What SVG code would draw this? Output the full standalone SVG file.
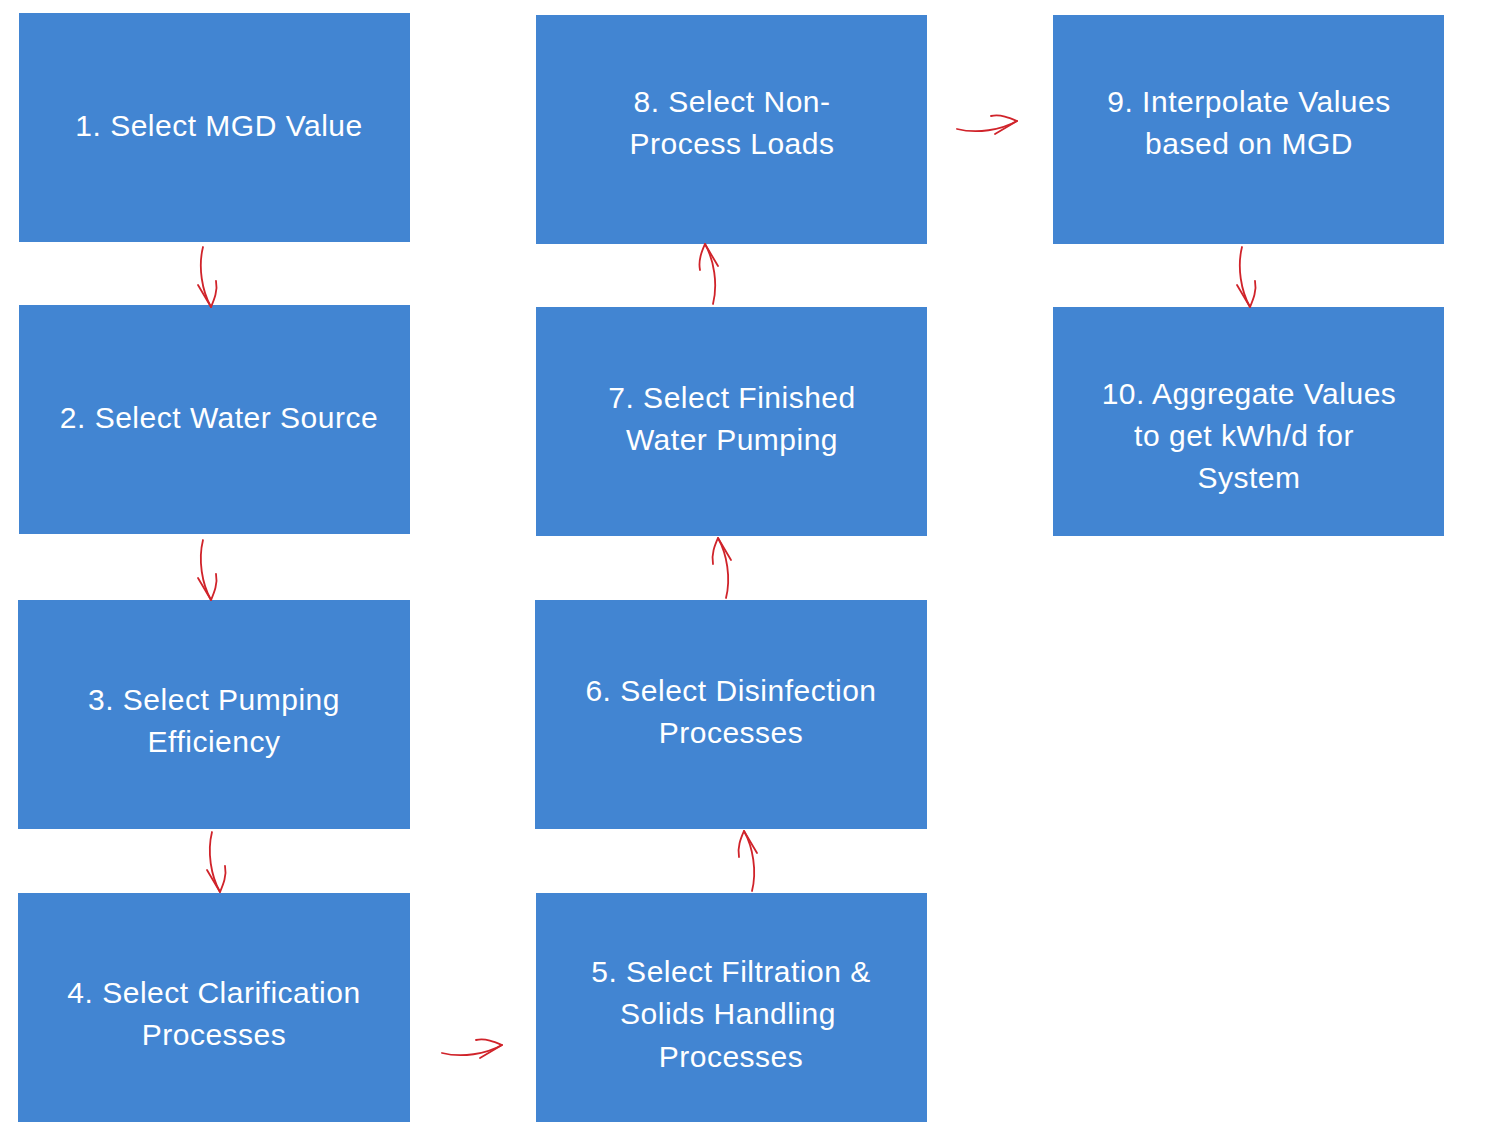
<svg xmlns="http://www.w3.org/2000/svg" xmlns:xlink="http://www.w3.org/1999/xlink" width="1500" height="1139" viewBox="0 0 1500 1139">
<style>
.box{fill:#4285d2}
.t{font-family:"Liberation Sans",Arial,sans-serif;font-size:30px;fill:#fff;text-anchor:middle;letter-spacing:0.5px}
.a{fill:none;stroke:#d0232a;stroke-width:1.8;stroke-linecap:round}
</style>
<defs>
<g id="arr"><path class="a" d="M-4,0 C-9,20 -5,44 4,60"/><path class="a" d="M-9,38 L4,60 M9,34 C11,44 7,53 4,60"/></g>
</defs>
<rect width="1500" height="1139" fill="#fff"/>
<g id="n1"><rect class="box" x="19" y="13" width="391" height="229"/><text class="t" x="219" y="136">1. Select MGD Value</text></g>
<g id="n2"><rect class="box" x="19" y="305" width="391" height="229"/><text class="t" x="219" y="428">2. Select Water Source</text></g>
<g id="n3"><rect class="box" x="18" y="600" width="392" height="229"/><text class="t" x="214" y="710">3. Select Pumping</text><text class="t" x="214" y="752">Efficiency</text></g>
<g id="n4"><rect class="box" x="18" y="893" width="392" height="229"/><text class="t" x="214" y="1003">4. Select Clarification</text><text class="t" x="214" y="1045">Processes</text></g>
<g id="n5"><rect class="box" x="536" y="893" width="391" height="229"/><text class="t" x="731" y="982">5. Select Filtration &amp;</text><text class="t" x="728" y="1024">Solids Handling</text><text class="t" x="731" y="1067">Processes</text></g>
<g id="n6"><rect class="box" x="535" y="600" width="392" height="229"/><text class="t" x="731" y="701">6. Select Disinfection</text><text class="t" x="731" y="743">Processes</text></g>
<g id="n7"><rect class="box" x="536" y="307" width="391" height="229"/><text class="t" x="732" y="408">7. Select Finished</text><text class="t" x="732" y="450">Water Pumping</text></g>
<g id="n8"><rect class="box" x="536" y="15" width="391" height="229"/><text class="t" x="732" y="112">8. Select Non-</text><text class="t" x="732" y="154">Process Loads</text></g>
<g id="n9"><rect class="box" x="1053" y="15" width="391" height="229"/><text class="t" x="1249" y="112">9. Interpolate Values</text><text class="t" x="1249" y="154">based on MGD</text></g>
<g id="n10"><rect class="box" x="1053" y="307" width="391" height="229"/><text class="t" x="1249" y="404">10. Aggregate Values</text><text class="t" x="1244" y="446">to get kWh/d for</text><text class="t" x="1249" y="488">System</text></g>
<g id="connectors">
<use xlink:href="#arr" transform="translate(207,247)"/>
<use xlink:href="#arr" transform="translate(207,540)"/>
<use xlink:href="#arr" transform="translate(216,832)"/>
<use xlink:href="#arr" transform="translate(442,1049) rotate(-90)"/>
<use xlink:href="#arr" transform="translate(748,891) rotate(180)"/>
<use xlink:href="#arr" transform="translate(722,598) rotate(180)"/>
<use xlink:href="#arr" transform="translate(709,304) rotate(180)"/>
<use xlink:href="#arr" transform="translate(957,125) rotate(-90)"/>
<use xlink:href="#arr" transform="translate(1246,247)"/>
</g>
</svg>
